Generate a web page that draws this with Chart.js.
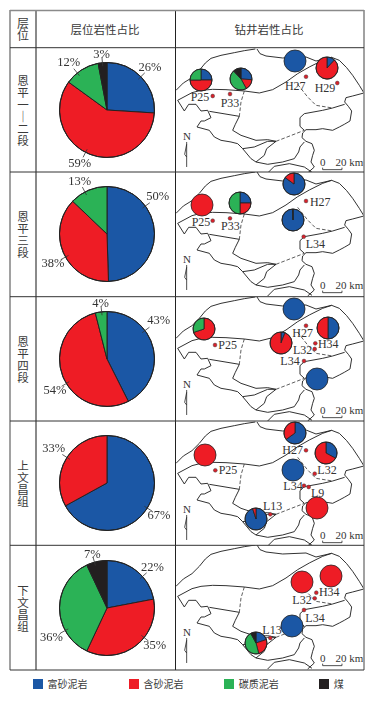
<!DOCTYPE html>
<html>
<head>
<meta charset="utf-8">
<script src="https://cdn.jsdelivr.net/npm/chart.js@4"></script>
<style>
html,body{margin:0;background:#fff}
#page{position:relative;width:376px;height:704px;overflow:hidden;color:#3a3a3a;font-family:"Noto Sans CJK SC",sans-serif}
#page svg.back,#dots{position:absolute;left:0;top:0}
#page canvas{position:absolute}
.t{position:absolute;text-align:center;font-size:11.5px;line-height:12px;white-space:nowrap}
.sw{position:absolute;width:10px;height:10px;top:679px}
</style>
</head>
<body>
<div id="page"></div>
<script>
const lithology = ['富砂泥岩', '含砂泥岩', '碳质泥岩', '煤'];
const colors = ['#1b57a5', '#ee1c25', '#2bb256', '#231f20'];
const layers = ['恩平一｜二段', '恩平三段', '恩平四段', '上文昌组', '下文昌组'];

// layer totals, % by lithology
const layerShares = [
  [26, 59, 12, 3],
  [50, 38, 13, 0],
  [43, 54, 4, 0],
  [67, 33, 0, 0],
  [22, 35, 36, 7]
];

// well pies in each map, same lithology order
const wellPies = [
  [[25, 50, 25, 0], [26, 16, 46, 12], [100, 0, 0, 0], [12, 88, 0, 0]],
  [[0, 100, 0, 0], [25, 25, 50, 0], [85, 15, 0, 0], [99.6, 0, 0, 0.4]],
  [[100, 0, 0, 0], [0, 70, 30, 0], [6, 94, 0, 0], [50, 50, 0, 0], [100, 0, 0, 0]],
  [[65, 35, 0, 0], [0, 100, 0, 0], [100, 0, 0, 0], [33, 67, 0, 0], [95, 5, 0, 0], [0, 100, 0, 0]],
  [[0, 100, 0, 0], [0, 100, 0, 0], [100, 0, 0, 0], [20, 26, 46, 8]]
];

// well locations on the page, map by map
const wellNames = ['P25', 'P33', 'H27', 'H29', 'P25', 'P33', 'H27', 'L34', 'P25', 'H27', 'H34', 'L32', 'L34', 'P25', 'H27', 'L32', 'L34', 'L9', 'L13', 'H34', 'L32', 'L34', 'L13'];
const wellX = [212.7, 230, 306, 337.3, 212.7, 230, 306, 303.7, 215, 306, 315.3, 314.7, 304, 215.3, 306, 314.7, 304, 308.7, 270.3, 316.3, 314.7, 304, 270.3];
const wellY = [96, 94, 76.7, 83, 220.7, 218.3, 201, 236.7, 345, 325.7, 343.3, 349, 361, 470.3, 450.3, 473.7, 485.7, 487, 514.3, 592.7, 598.3, 610, 638];

// layout only
const pieCentreY = [110, 234.3, 359, 483.3, 608];
const pieRadius = 47.5;
const shareLabelSpots = [
  [[150.3, 67.7], [80, 164], [69, 62.3], [102, 55]],
  [[158, 197.3], [53.3, 264.3], [80, 182.3]],
  [[159, 320.3], [55.3, 390.3], [101, 303.3]],
  [[159.3, 515.7], [54, 449.3]],
  [[152.7, 567.7], [155, 646], [51.7, 638], [92.7, 554.7]]
];
const wellPieSpots = [
  [[201.3, 80], [240.7, 78.7], [295, 61.3], [327.3, 68]],
  [[201.7, 205], [240.3, 203.3], [294.3, 184.3], [293.3, 220]],
  [[293.7, 309.3], [204, 329], [281.3, 343.3], [327.7, 327.7], [316.7, 379]],
  [[295.3, 433.3], [204.7, 455], [292.7, 470], [326.3, 453.3], [256, 519.3], [317.3, 508]],
  [[302.3, 581.7], [330.7, 575.7], [291.7, 626.3], [255.7, 643.3]]
];
const wellLabelX = [200, 230, 295.3, 325, 201, 230.3, 320.3, 315.3, 227.7, 302.7, 328.3, 302.7, 290, 228, 292.7, 327, 293, 317.7, 272.7, 329.3, 302, 315, 272];
const wellLabelY = [97, 103, 86, 88, 222.3, 226, 202, 244, 345.3, 332.7, 344, 350, 360.7, 470.3, 450, 470.3, 485.7, 492.7, 506, 592.3, 600, 618, 630];
const rowLines = [47.7, 172, 296.7, 421, 545.3, 670];
const mapShift = [-123, 0, 125, 250, 373];

const page = document.getElementById('page');

// basin outline, traced at 3x and shared by all five maps
const solid = [
  'M0,130L22,108 48,92 70,70 88,48 105,34 135,25 175,17 205,11 238,6',
  'M243,6L252,20 270,27 320,33 390,30 420,42 450,35 467,31 490,40 512,62 530,85 550,115 564,138',
  'M564,138L530,147 510,152 506,165 517,178 527,192 522,222 505,232 490,240 470,250 440,245 420,248 390,248 380,258 378,272 390,283 408,290 415,310 410,325 405,345 415,360 395,378',
  'M5,160L48,137 75,130 110,127 150,128 205,132 250,138 290,128 330,105 365,80 400,60 440,40 467,31',
  'M5,160L25,192 38,172 60,172 75,192 95,190 105,212 85,222 75,222 63,240 100,250 115,270 135,280 165,285 185,290 200,305 225,335 240,345',
  'M100,193L190,208 178,232 170,250 195,265 240,280 275,278 300,283',
  'M200,305L235,300 275,283 300,283 272,305 265,325 240,345 275,352 320,345 355,335 368,315 372,300 385,285',
  'M275,378L295,358 340,350 385,360 408,376',
  'M385,200L440,190 470,183 506,172',
  'M385,200L372,212 372,238 385,250'
];
const dashed = ['M205,132L195,165 190,208', 'M300,283L385,250', 'M365,112L395,150 420,175 470,183'];

let back = '<svg class="back" width="376" height="704" font-family="Liberation Serif" font-size="12" fill="#333">';
layers.forEach((layer, i) => {
  const top = rowLines[i];
  back += `<svg x="176" y="${top}" width="188" height="${rowLines[i + 1] - top}"><g transform="translate(0,${170 + mapShift[i] - top}) scale(0.3333)" fill="none" stroke="#222">`;
  back += `<path d="${solid.join('')}" stroke-width="2.8" stroke-linejoin="round"/>`;
  back += `<path d="${dashed.join('')}" stroke-width="2.2" stroke-dasharray="11 6"/>`;
  back += '<path d="M32,285V360M32,292L26,322 32,330" stroke-width="2.4"/>';
  back += '<path d="M440,362V368H498V362" stroke-width="2.4"/>';
  back += '<g fill="#333" stroke="none" font-size="33"><text x="33" y="278" text-anchor="middle">N</text><text x="440" y="357" text-anchor="middle">0</text><text x="520" y="357" text-anchor="middle">20 km</text></g>';
  back += '</g></svg>';
});
wellNames.forEach((name, i) => {
  back += `<text x="${wellLabelX[i]}" y="${wellLabelY[i] + 4}" text-anchor="middle">${name}</text>`;
});
[[10, 1.6], [36, 2], [364, 1.6]].forEach(v => {
  back += `<line x1="${v[0]}" x2="${v[0]}" y1="10" y2="670" stroke="#8a8a8a" stroke-width="${v[1]}"/>`;
});
back += '<line x1="175.5" x2="175.5" y1="10" y2="670" stroke="#222"/>';
back += '<line x1="10" x2="364" y1="10.5" y2="10.5" stroke="#8a8a8a" stroke-width="1.4"/>';
rowLines.forEach(y => {
  back += `<line x1="10" x2="364" y1="${y}" y2="${y}" stroke="#333"/>`;
});
back += '</svg>';
page.insertAdjacentHTML('beforeend', back);

function addText(txt, cx, cy, w, extra) {
  const d = document.createElement('div');
  d.className = 't';
  d.innerHTML = txt;
  d.style.cssText = `left:${cx - w / 2}px;width:${w}px;` + (extra || '');
  page.appendChild(d);
  d.style.top = (cy - d.offsetHeight / 2) + 'px';
}

addText('层<br>位', 23, 29, 20, 'font-size:12px');
addText('层位岩性占比', 105, 29, 90, 'font-size:11.5px');
addText('钻井岩性占比', 269, 29, 90, 'font-size:11.5px');
layers.forEach((layer, i) => {
  const rowCentre = (rowLines[i] + rowLines[i + 1]) / 2;
  addText([...layer].join('<br>'), 23, rowCentre, 20);
});

[33, 129, 224.3, 319.3].forEach((x, i) => {
  const s = document.createElement('div');
  s.className = 'sw';
  s.style.left = x + 'px';
  s.style.background = colors[i];
  page.appendChild(s);
  const w = lithology[i].length * 10;
  addText(lithology[i], x + 14.5 + w / 2, 684, w, 'font-size:10px');
});

// rim drawn apart: a full 100% slice would get a radial line from its border
const rim = {
  id: 'rim',
  afterDatasetsDraw(chart, args, opts) {
    const arc = chart.getDatasetMeta(0).data[0];
    const c = chart.ctx;
    c.save();
    c.beginPath();
    c.arc(arc.x, arc.y, arc.outerRadius, 0, Math.PI * 2);
    c.strokeStyle = '#222';
    c.lineWidth = opts.width;
    c.stroke();
    c.restore();
  }
};

const shareLabels = {
  id: 'shareLabels',
  afterDraw(chart, args, opts) {
    const arc = chart.getDatasetMeta(0).data[0];
    const c = chart.ctx;
    c.save();
    c.font = '12.5px "Liberation Serif"';
    c.textAlign = 'center';
    c.textBaseline = 'middle';
    c.fillStyle = '#333';
    c.strokeStyle = '#333';
    c.lineWidth = 0.8;
    opts.spots.forEach((p, i) => {
      const x = p[0] - opts.left;
      const y = p[1] - opts.top;
      const a = Math.atan2(y - arc.y, x - arc.x);
      c.beginPath();
      c.moveTo(arc.x + Math.cos(a) * 44, arc.y + Math.sin(a) * 44);
      c.lineTo(arc.x + Math.cos(a) * 53, arc.y + Math.sin(a) * 53);
      c.stroke();
      c.fillText(opts.values[i] + '%', x, y);
    });
    c.restore();
  }
};

function pie(values, cx, cy, w, h, radius, border, extra, plugins) {
  const el = document.createElement('canvas');
  el.width = w;
  el.height = h;
  el.style.left = (cx - w / 2) + 'px';
  el.style.top = (cy - h / 2) + 'px';
  page.appendChild(el);
  return new Chart(el, {
    type: 'pie',
    data: {
      labels: lithology,
      datasets: [{
        data: values,
        backgroundColor: colors,
        borderColor: '#222',
        borderWidth: c => (c.dataset.data[c.dataIndex] >= 100 ? 0 : border),
        radius: radius
      }]
    },
    options: {
      responsive: false,
      animation: false,
      events: [],
      plugins: Object.assign({ legend: { display: false }, tooltip: { enabled: false }, rim: { width: border } }, extra)
    },
    plugins: plugins
  });
}

// well points on one page-sized scatter
const dots = document.createElement('canvas');
dots.id = 'dots';
dots.width = 376;
dots.height = 704;
page.appendChild(dots);
new Chart(dots, {
  type: 'scatter',
  data: {
    datasets: [{
      data: wellX.map((x, i) => ({ x: x, y: wellY[i] })),
      backgroundColor: '#d9202a',
      borderColor: '#444',
      borderWidth: 0.5,
      pointRadius: 1.9
    }]
  },
  options: {
    responsive: false,
    animation: false,
    events: [],
    layout: { autoPadding: false, padding: 0 },
    scales: {
      x: { type: 'linear', min: 0, max: 376, display: false },
      y: { type: 'linear', min: 0, max: 704, reverse: true, display: false }
    },
    plugins: { legend: { display: false }, tooltip: { enabled: false } }
  }
});

layerShares.forEach((shares, i) => {
  const cx = 107, w = 140, h = 124;
  pie(shares, cx + 0.3, pieCentreY[i], w, h, pieRadius, 1, {
    shareLabels: {
      spots: shareLabelSpots[i],
      values: shares.filter(v => v > 0),
      left: cx + 0.3 - w / 2,
      top: pieCentreY[i] - h / 2
    }
  }, [rim, shareLabels]);
});

wellPies.forEach((row, i) => {
  row.forEach((values, j) => {
    pie(values, wellPieSpots[i][j][0], wellPieSpots[i][j][1], 26, 26, 11, 0.8, {}, [rim]);
  });
});
</script>
</body>
</html>
